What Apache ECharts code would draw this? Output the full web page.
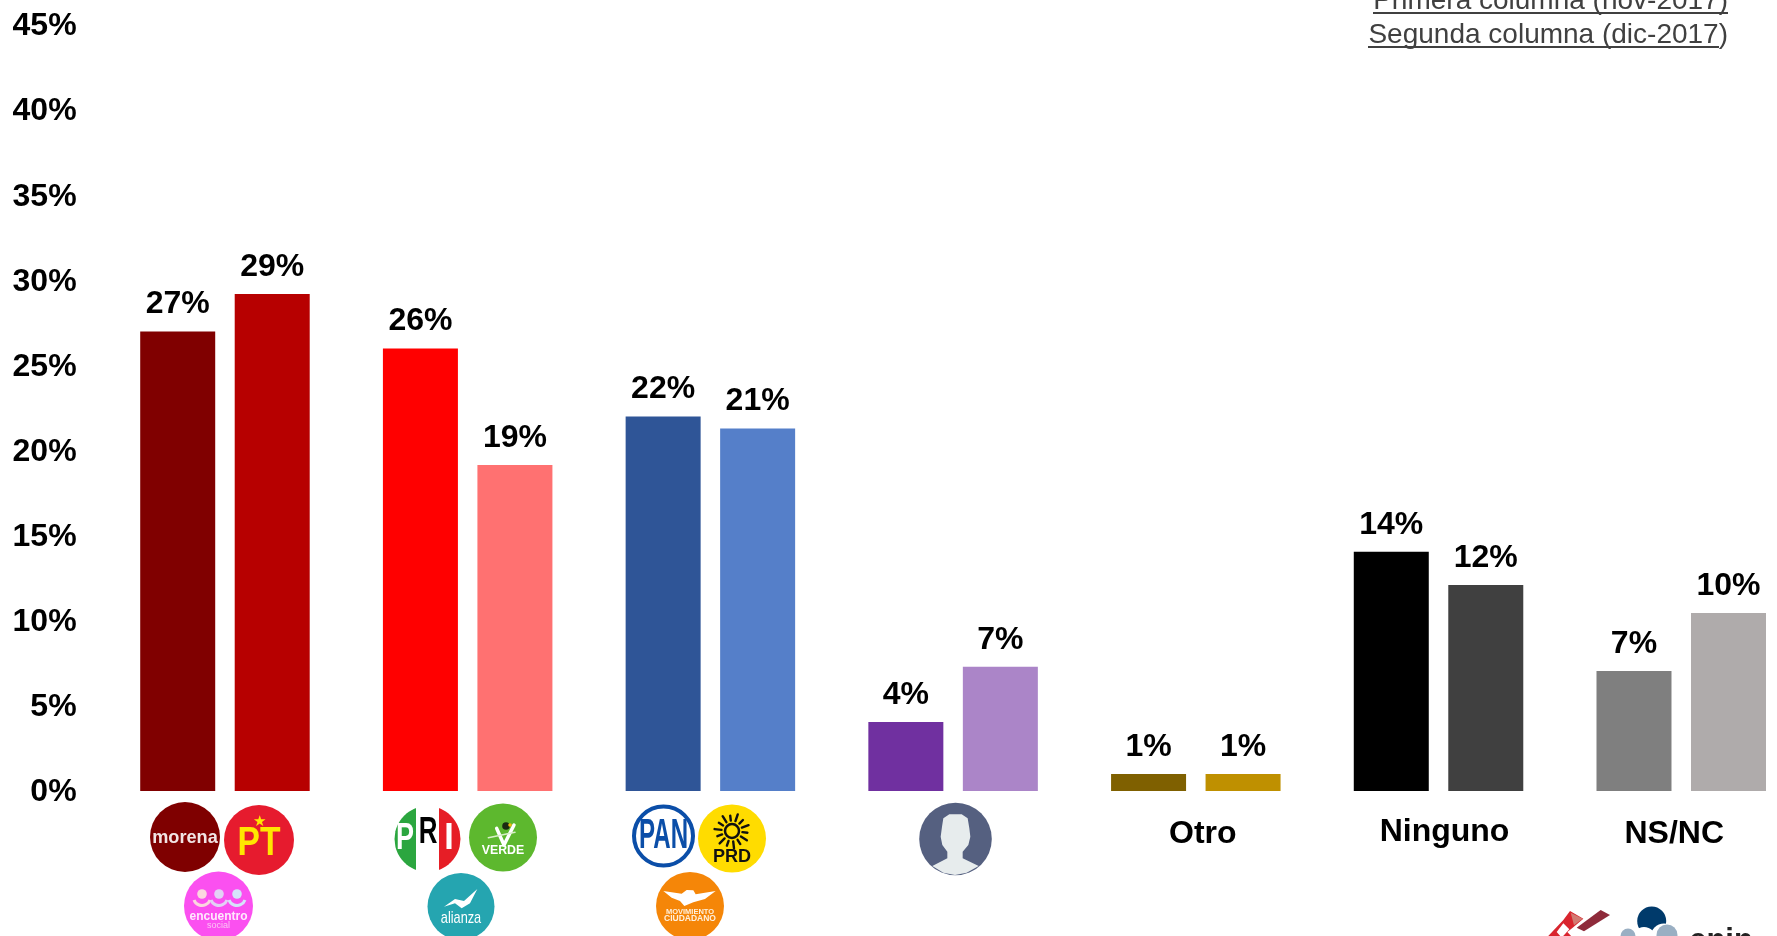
<!DOCTYPE html>
<html><head><meta charset="utf-8">
<style>html,body{margin:0;padding:0;background:#fff;overflow:hidden}#c{width:1777px;height:936px}</style>
<script src="https://cdn.jsdelivr.net/npm/echarts@6/dist/echarts.min.js"></script>
</head><body><div id="c"></div>
<script>
const categories = ['Morena-PT-Encuentro Social','PRI-Verde-Nueva Alianza','PAN-PRD-Movimiento Ciudadano','Independiente','Otro','Ninguno','NS/NC'];
const shownCategories = ['Otro','Ninguno','NS/NC'];
const seriesNov = [27.0,26.0,22.0,4.05,1.0,14.05,7.05];
const seriesDic = [29.2,19.15,21.3,7.3,1.0,12.1,10.45];
const colorsNov = ['#800000','#FF0000','#2F5597','#7030A0','#7F6000','#000000','#7F7F7F'];
const colorsDic = ['#B70000','#FF7171','#557FC9','#AB85C8','#BF9000','#404040','#AFABAB'];
const yTicks = [0,5,10,15,20,25,30,35,40,45];
const legendLines = ['Primera columna (nov-2017)','Segunda columna (dic-2017)'];

const F = '"Liberation Sans", Arial, sans-serif';
const g = [];
function circle(cx,cy,r,fill,stroke,lw){g.push({type:'circle',silent:true,shape:{cx,cy,r},style:{fill,stroke:stroke||null,lineWidth:lw||0}});}
function txt(x,y,text,size,fill,weight,sx,align){g.push({type:'text',silent:true,x,y,scaleX:sx||1,style:{x:0,y:0,text,fontFamily:F,fontSize:size,fontWeight:weight||'bold',fill,align:align||'center',verticalAlign:'middle'}});}
function P(ox,oy,a){return a.map(p=>[ox+p[0]/3,oy+p[1]/3]);}
function poly(points,fill,smooth){g.push({type:'polygon',silent:true,shape:{points,smooth:smooth||0},style:{fill}});}
function line(points,stroke,lw){g.push({type:'polyline',silent:true,shape:{points},style:{stroke,lineWidth:lw,fill:null,lineCap:'round',lineJoin:'round'}});}
function seg(cx,cy,r,x1,x2,fill){ // vertical slice of a disc
  const pts=[];const n=24;
  for(let i=0;i<=n;i++){const x=x1+(x2-x1)*i/n;const d=x-cx;pts.push([x,cy-Math.sqrt(Math.max(0,r*r-d*d))]);}
  for(let i=n;i>=0;i--){const x=x1+(x2-x1)*i/n;const d=x-cx;pts.push([x,cy+Math.sqrt(Math.max(0,r*r-d*d))]);}
  poly(pts,fill);
}
// Morena
circle(185,837,35,'#7F0000');
txt(185,838,'morena',18.5,'#F2E4E4','bold',0.98);
// PT
circle(259,840,35,'#E61B2E');
txt(259,822,'★',15,'#FFE600','normal');
txt(259,844,'PT',40,'#FFE600','bold',0.84);
// Encuentro social
circle(218.5,906,34.5,'#FB50F0');
[[202,'#FBD6DF'],[219,'#E2D0F5'],[237,'#D5E4FA']].forEach(a=>{
  circle(a[0],894,4.8,a[1]);
  g.push({type:'arc',silent:true,shape:{cx:a[0],cy:897,r:8.5,startAngle:0.35,endAngle:Math.PI-0.35},style:{stroke:a[1],lineWidth:3,fill:null}});
});
txt(218.5,917,'encuentro',12,'#FFE9FD','bold');
txt(218.5,926,'social',9,'#FBC4F5','normal');
// PRI
seg(427.5,839,33,394.5,416,'#2BA63F');
seg(427.5,839,33,416,439,'#FFFFFF');
seg(427.5,839,33,439,460.5,'#E61E26');
txt(405,839,'P',36,'#FFFFFF','bold',0.75);
txt(428,833,'R',36,'#000000','bold',0.72);
txt(449,839,'I',36,'#FFFFFF','bold',0.95);
// Verde
circle(503,837.5,34,'#5DB82E');
line(P(390,795,[[320,100],[342,150],[372,90]]),'#FFFFFF',3.5);
line(P(390,795,[[295,128],[375,112]]),'#D9EFC8',1.5);
circle(506,826,3.8,'#1A2A12');
circle(510,825,1.8,'#F2B90F');
txt(503,850.5,'VERDE',13,'#FFFFFF','bold',0.95);
// Nueva Alianza
circle(461,906.5,33.5,'#25A5B0');
poly(P(390,795,[[162,335],[195,312],[222,318],[262,282],[240,325],[215,340],[195,325]]),'#FFFFFF');
txt(461,918,'alianza',17,'#FFFFFF','normal',0.75);
// PAN
circle(663.5,836,29.5,'#FFFFFF','#0B4EA8',4);
txt(663.5,836,'PAN',43,'#0B4EA8','bold',0.56);
// PRD
circle(732,838.5,34,'#FFDC00');
circle(732,831,7,'#FFDC00','#111111',2.5);
for(let i=0;i<14;i++){const t=i/14*Math.PI*2+0.11;const r1=10.5,r2=(i%2?17.5:15.5);
  line([[732+r1*Math.cos(t),831+r1*Math.sin(t)],[732+r2*Math.cos(t),831+r2*Math.sin(t)]],'#111111',2.4);}
txt(732,857,'PRD',19,'#111111','bold',0.95);
// Movimiento Ciudadano
circle(690,906,34,'#F58608');
poly(P(625,795,[[115,288],[170,296],[185,285],[205,286],[212,298],[272,288],[240,312],[205,322],[178,333],[165,318],[140,308]]),'#FFFFFF');
txt(690,912,'MOVIMIENTO',7.5,'#FFF0DC','bold');
txt(690,919,'CIUDADANO',8.5,'#FFF0DC','bold');
// Independiente
circle(955.5,839,36.3,'#556080');
poly(P(900,795,[[130,70],[148,58],[185,58],[203,70],[208,100],[211,125],[205,150],[188,170],[188,190],[236,213],[200,233],[165,240],[130,233],[97,213],[142,190],[142,170],[127,150],[122,125],[126,95]]),'#E7ECED');
// Logotipo de la encuesta
poly(P(1530,896,[[50,125],[100,72],[120,45],[160,68],[128,95],[112,108],[128,125]]),'#D9252E');
poly(P(1530,896,[[122,50],[158,68],[132,88]]),'#D27A72');
poly(P(1530,896,[[140,95],[212,42],[240,57],[162,106]]),'#8E2A3A');
poly(P(1530,896,[[80,108],[100,82],[118,100],[95,125]]),'#FFFFFF');
circle(1651.7,921,14.5,'#003A6B');
circle(1664,937,13.5,'#FFFFFF');
circle(1644,939,12,'#FFFFFF');
circle(1667,935,10.5,'#9AAFC3');
circle(1628,936,7.5,'#9AAFC3');
txt(1721,941,'enin',31,'#222222','bold');
// Rótulos de columnas
txt(1728,1,legendLines[0],28,'#404040','normal',1,'right');
txt(1728,35,legendLines[1],28,'#404040','normal',1,'right');
g.push({type:'line',silent:true,shape:{x1:1373,y1:13,x2:1728,y2:13},style:{stroke:'#404040',lineWidth:2}});
g.push({type:'line',silent:true,shape:{x1:1368,y1:47,x2:1719,y2:47},style:{stroke:'#404040',lineWidth:2}});

const labelBase={fontFamily:F,fontSize:32,fontWeight:'bold',color:'#000'};
const mkSeries=(name,vals,cols)=>({
  type:'bar',name,barWidth:75,barGap:'26%',
  data:vals.map((v,i)=>({value:v,itemStyle:{color:cols[i]}})),
  label:{show:true,position:'top',distance:11,formatter:p=>Math.round(p.value)+'%',...labelBase}
});
const chart=echarts.init(document.getElementById('c'),null,{renderer:'canvas'});
chart.setOption({
  animation:false,backgroundColor:'#fff',
  grid:{left:103.6,top:25,width:1699,height:766,containLabel:false,outerBoundsMode:'none'},
  xAxis:{type:'category',data:categories,axisLine:{show:false},axisTick:{show:false},
    axisLabel:{interval:0,margin:25,hideOverlap:false,
      formatter:v=>shownCategories.includes(v)?('{'+(v==='Otro'?'a':v==='Ninguno'?'b':'c')+'|'+v+'}'):'',
      rich:{a:{...labelBase,padding:[2,0,0,14]},b:{...labelBase,padding:[0,0,0,12]},c:{...labelBase,padding:[2,14,0,0]}}}},
  yAxis:{type:'value',min:yTicks[0],max:yTicks[yTicks.length-1],interval:5,splitLine:{show:false},axisLine:{show:false},axisTick:{show:false},
    axisLabel:{margin:27,formatter:'{t|{value}%}',rich:{t:{...labelBase,padding:[3,0,0,0]}}}},
  series:[mkSeries('nov-2017',seriesNov,colorsNov),mkSeries('dic-2017',seriesDic,colorsDic)],
  graphic:{elements:g}
});
</script></body></html>
